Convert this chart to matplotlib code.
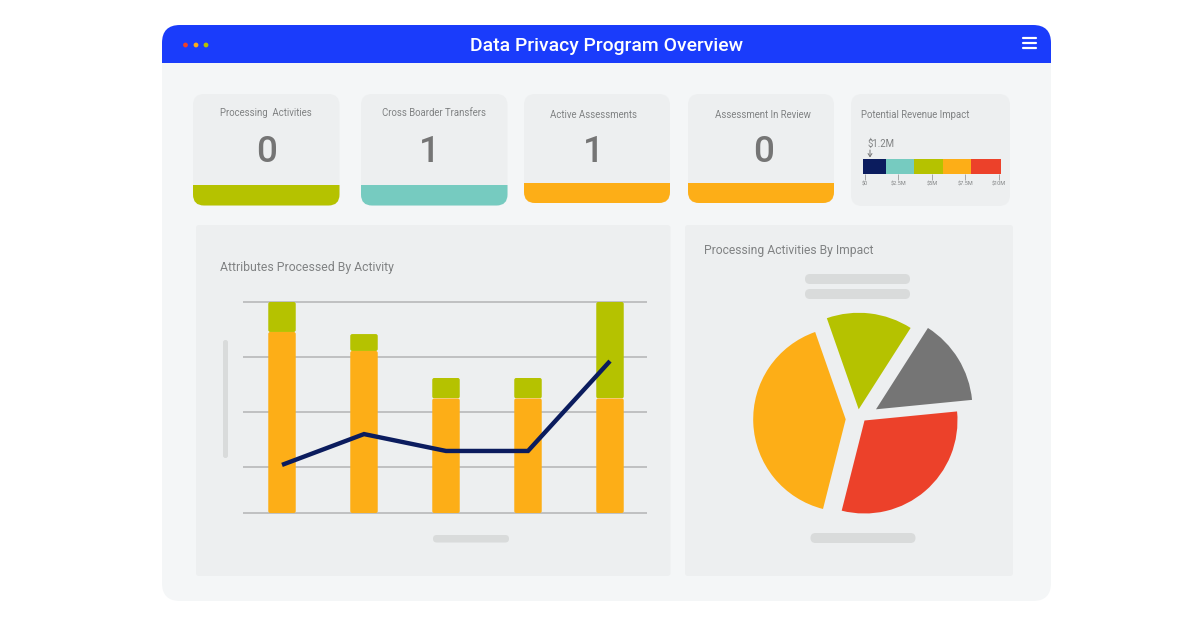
import matplotlib
matplotlib.use("Agg")
import matplotlib.pyplot as plt
from matplotlib.patches import FancyBboxPatch, Rectangle, Circle
from matplotlib.transforms import IdentityTransform

plt.rcParams['font.family'] = ['Roboto', 'DejaVu Sans']

# ---- data ----
title = "Data Privacy Program Overview"
card_titles = ["Processing  Activities", "Cross Boarder Transfers", "Active Assessments", "Assessment In Review"]
card_values = ["0", "1", "1", "0"]
gauge_title = "Potential Revenue Impact"
gauge_value = "$1.2M"
gauge_widths = [1.69, 2.08, 2.19, 2.08, 2.23]
gauge_ticks = [0, 2.5, 5, 7.5, 10]
gauge_ticklabels = ["$0", "$2.5M", "$5M", "$7.5M", "$10M"]
bar_title = "Attributes Processed By Activity"
bar_orange = [8.58, 7.68, 5.43, 5.43, 5.43]
bar_green = [1.42, 0.80, 0.97, 0.97, 4.57]
line_values = [2.28, 3.74, 2.94, 2.94, 7.2]
grid_levels = [0, 2.18, 4.79, 7.39, 10]
pie_title = "Processing Activities By Impact"
pie_values = [14.4, 14.4, 40.7, 30.5]

# ---- colours ----
WHITE = "#ffffff"
BG = "#f4f6f7"
CARD = "#edeff0"
BLUE = "#1a3cfb"
LIME = "#b5c200"
TEAL = "#76cbc0"
ORANGE = "#fdae17"
RED = "#ec412a"
NAVY = "#0b1c5e"
GRAY = "#757575"
TXT = "#808283"
PH = "#d9dbdb"
GRID = "#b5b6b7"

W, H = 1200, 628
fig = plt.figure(figsize=(W / 100, H / 100), dpi=100, facecolor=WHITE)
bg = fig.add_axes([0, 0, 1, 1])
bg.set_xlim(0, W)
bg.set_ylim(H, 0)
bg.axis("off")


def px(size):
    return size * 72 / 100


def rbox(x0, y0, x1, y1, r, color, z=1):
    p = FancyBboxPatch((x0 + r, y0 + r), x1 - x0 - 2 * r, y1 - y0 - 2 * r,
                       boxstyle=f"round,pad={r},rounding_size={r}",
                       fc=color, ec="none", zorder=z)
    bg.add_patch(p)
    return p


def band(x0, y0, x1, y1, color, clip, z=2):
    p = Rectangle((x0, y0), x1 - x0, y1 - y0, fc=color, ec="none", zorder=z)
    bg.add_patch(p)
    p.set_clip_path(clip)
    return p


def round_rect(rect, ax, r=2.0):
    """Clip a bar to a rounded outline of its own size, r in pixels."""
    fig.canvas.draw_idle()
    bb = rect.get_window_extent(fig.canvas.get_renderer())
    clip = FancyBboxPatch((bb.x0 + r, bb.y0 + r), bb.width - 2 * r, bb.height - 2 * r,
                          boxstyle=f"round,pad={r},rounding_size={r}",
                          transform=IdentityTransform())
    rect.set_clip_path(clip)


# window
outer = rbox(162, 25, 1051, 601, 18, BG, 1)
band(162, 25, 1051, 62.5, BLUE, outer)
for cx, c in zip([185.5, 196, 206], [RED, ORANGE, LIME]):
    bg.add_patch(Circle((cx, 45), 2.4, fc=c, ec="none", zorder=3))
for yy in [38, 43, 48]:
    bg.plot([1022.5, 1036], [yy, yy], color=WHITE, lw=px(2.2), solid_capstyle="round", zorder=3)
bg.text(606.5, 46, title, color=WHITE, fontsize=px(19.4), fontweight="medium", ha="center", va="center", zorder=3)

# KPI cards
card_geo = [(193, 339.5, 205.5, 185), (361, 507.5, 205.5, 185), (524, 670, 203, 183), (688, 834, 203, 183)]
card_cols = [LIME, TEAL, ORANGE, ORANGE]
card_ty = [113.5, 113.5, 115.5, 115.5]
card_tx = [266, 434, 594, 763]
card_vx = [267, 429.5, 593, 764]
for (x0, x1, yb, yf), col, t, v, ty, tx, vx in zip(card_geo, card_cols, card_titles, card_values, card_ty, card_tx, card_vx):
    c = rbox(x0, 94, x1, yb, 11, CARD)
    band(x0, yf, x1, yb, col, c)
    bg.text(tx, ty, t, color=TXT, fontsize=px(9.7), ha="center", va="center", zorder=3)
    bg.text(vx, 152, v, color=GRAY, fontsize=px(37), fontweight="medium", ha="center", va="center", zorder=3)

# gauge card
rbox(851, 94, 1010, 206, 11, CARD)
bg.text(861, 115.5, gauge_title, color=TXT, fontsize=px(9.7), ha="left", va="center", zorder=3)
bg.text(868, 143.5, gauge_value, color=TXT, fontsize=px(9.7), ha="left", va="center", zorder=3)
bg.annotate("", xy=(870, 157.5), xytext=(870, 150), zorder=3,
            arrowprops=dict(arrowstyle="->,head_width=0.14,head_length=0.22", color=GRAY, lw=0.7, shrinkA=0, shrinkB=0))

gax = fig.add_axes([864.7 / W, 1 - 174 / H, (999 - 864.7) / W, 15 / H])
gax.set_xlim(0, 10)
gax.set_ylim(0, 1)
gax.patch.set_alpha(0)
for s in gax.spines.values():
    s.set_visible(False)
left = -0.13
gauge_rects = []
for wd, col in zip(gauge_widths, [NAVY, TEAL, LIME, ORANGE, RED]):
    r = gax.barh(0.5, wd, left=left, height=1, color=col, clip_on=False)
    gauge_rects.append(r[0])
    left += wd
gax.set_yticks([])
gax.set_xticks(gauge_ticks, gauge_ticklabels)
gax.tick_params(axis="x", length=4.5, width=0.6, color="#9a9a9a", labelsize=px(5.5), labelcolor=TXT, pad=1.2)
gax.xaxis.set_ticks_position("bottom")

# panels
rbox(196, 225, 670.5, 576, 3, CARD)
rbox(685, 225, 1013, 576, 3, CARD)
bg.text(219.5, 268, bar_title, color=TXT, fontsize=px(12.2), ha="left", va="center", zorder=3)
bg.text(703.5, 250.5, pie_title, color=TXT, fontsize=px(12.1), ha="left", va="center", zorder=3)
rbox(223, 340, 228, 458, 2.4, PH, 2)
rbox(433, 535, 509, 542.5, 3.7, PH, 2)
rbox(805, 274, 910, 284, 5, PH, 2)
rbox(805, 289, 910, 299, 5, PH, 2)
rbox(810.5, 533, 915.5, 543, 5, PH, 2)

# bar + line chart
bx = fig.add_axes([243 / W, 1 - 513 / H, (647 - 243) / W, (513 - 302) / H])
bx.patch.set_alpha(0)
bx.set_xlim(-39 / 82, 365 / 82)
bx.set_ylim(0, 10)
bx.axis("off")
idx = list(range(len(bar_orange)))
for lv in grid_levels:
    bx.axhline(lv, color=GRID, lw=px(1.6), zorder=1, clip_on=False, solid_capstyle="butt")
b1 = bx.bar(idx, bar_orange, width=0.335, color=ORANGE, zorder=2)
b2 = bx.bar(idx, bar_green, bottom=bar_orange, width=0.335, color=LIME, zorder=2)
bx.plot(idx, line_values, color=NAVY, lw=px(4.4), zorder=3, solid_joinstyle="miter", solid_capstyle="butt")

# pie chart (axes in pixel units, y pointing up)
pax = fig.add_axes([685 / W, 1 - 576 / H, 328 / W, 351 / H])
pax.patch.set_alpha(0)
wedges, _ = pax.pie(pie_values, colors=[GRAY, LIME, ORANGE, RED], startangle=5.6,
                    counterclock=True, radius=94, center=(0, 0), frame=True)
pie_radii = [96.5, 96.5, 92.5, 93]
pie_apex = [(876, 409.3), (858.7, 409.3), (845.7, 419.3), (864.5, 420.5)]
for w, r, (ax_, ay_) in zip(wedges, pie_radii, pie_apex):
    w.set_radius(r)
    w.set_center((ax_, H - ay_))
pax.set_aspect("auto")
pax.set_xlim(685, 1013)
pax.set_ylim(H - 576, H - 225)
pax.axis("off")

# small rounded corners on bars and gauge segments
for rect in list(b1) + list(b2) + gauge_rects:
    round_rect(rect, None, 2.0)

fig.savefig("out.png", dpi=100, facecolor=WHITE)
